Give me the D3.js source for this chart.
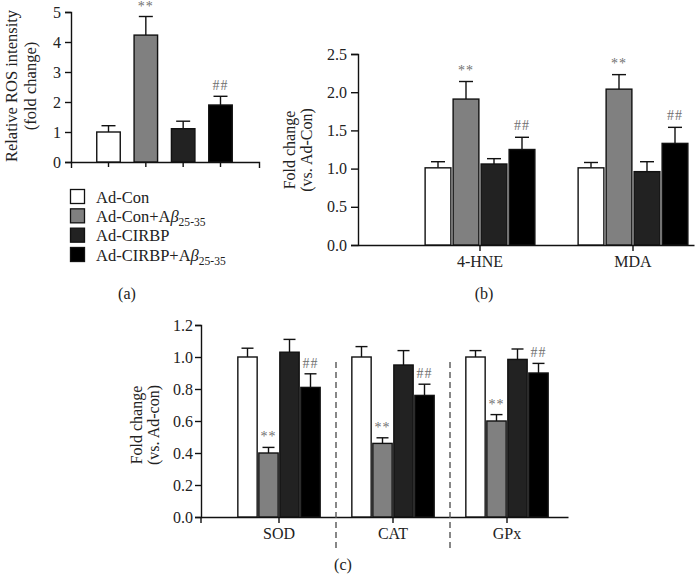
<!DOCTYPE html>
<html><head><meta charset="utf-8">
<script src="https://cdn.jsdelivr.net/npm/d3@7"></script>
<style>
body{margin:0;background:#fff;}
svg{display:block;}
text{font-family:"Liberation Serif","DejaVu Serif",serif;}
</style></head>
<body><svg id="c" width="695" height="576"></svg>
<script>
// ---------- data ----------
const groups = ["Ad-Con","Ad-Con+Aβ25-35","Ad-CIRBP","Ad-CIRBP+Aβ25-35"];
const fills = ["#ffffff","#808080","#222222","#000000"];

// (a) ROS
const rosMean = [1.00, 4.23, 1.11, 1.90];
const rosErr  = [0.21, 0.62, 0.25, 0.29];
const rosSig  = ["", "**", "", "##"];
const rosTicks = [0,1,2,3,4,5];

// (b) 4-HNE / MDA
const bCats = ["4-HNE","MDA"];
const bMean = [[1.01,1.01],[1.91,2.04],[1.06,0.96],[1.25,1.33]];   // per group, per category
const bErr  = [[0.08,0.07],[0.23,0.19],[0.07,0.13],[0.16,0.21]];
const bSig  = [["",""],["**","**"],["",""],["##","##"]];
const bTicks = [0,0.5,1.0,1.5,2.0,2.5];

// (c) SOD / CAT / GPx
const cCats = ["SOD","CAT","GPx"];
const cMean = [[1.00,1.00,1.00],[0.40,0.46,0.60],[1.03,0.95,0.985],[0.81,0.76,0.90]];
const cErr  = [[0.055,0.065,0.04],[0.035,0.035,0.04],[0.08,0.09,0.065],[0.085,0.07,0.06]];
const cSig  = [["","",""],["**","**","**"],["","",""],["##","##","##"]];
const cTicks = [0,0.2,0.4,0.6,0.8,1.0,1.2];

const svg = d3.select("#c");
const FS = 16;
const TXT = "#222";

function styleAxis(g){
  g.selectAll("path,line").attr("stroke","#111").attr("stroke-width",1.4);
  g.selectAll("text").attr("font-size",FS).style("fill",TXT)
   .attr("font-family",'"Liberation Serif",serif');
}

function txt(){ return svg.append("text").style("fill",TXT); }

function groupLabel(sel, name){
  const m = name.match(/^(.*)Aβ25-35$/);
  if(!m){ sel.text(name); return; }
  sel.append("tspan").text(m[1]+"A");
  sel.append("tspan").attr("font-style","italic").text("β");
  sel.append("tspan").attr("font-size",FS*0.72).attr("dy",4).text("25-35");
}

function errBar(g, cx, yTop, yErr, cap){
  g.append("line").attr("x1",cx).attr("x2",cx).attr("y1",yTop).attr("y2",yErr)
    .attr("stroke","#111").attr("stroke-width",1.4);
  g.append("line").attr("x1",cx-cap/2).attr("x2",cx+cap/2).attr("y1",yErr).attr("y2",yErr)
    .attr("stroke","#111").attr("stroke-width",1.4);
}

function sig(g, cx, y, s){
  if(!s) return;
  g.append("text").attr("x",cx).attr("y",y).attr("text-anchor","middle")
   .attr("font-size",14).style("fill","#707070").attr("letter-spacing",1).text(s);
}

// ---------- panel (a) ----------
{
  const y = d3.scaleLinear().domain([0,5]).range([162,12]);
  const x = d3.scalePoint().domain(groups).range([108.5,220.5]);
  const bw = 23.5;
  const g = svg.append("g");
  const ax = g.append("g").attr("transform","translate(71,0)")
    .call(d3.axisLeft(y).tickValues(rosTicks).tickFormat(d3.format("d")).tickSize(6).tickPadding(4));
  styleAxis(ax);
  const xs = d3.scaleLinear().domain([0,1]).range([71,259]);
  const axb = g.append("g").attr("transform","translate(0,162)")
    .call(d3.axisBottom(xs).tickValues([]).tickSizeOuter(6));
  styleAxis(axb);
  groups.forEach((gr,i)=>{
    const cx = x(gr);
    g.append("line").attr("x1",cx).attr("x2",cx).attr("y1",162).attr("y2",167)
     .attr("stroke","#111").attr("stroke-width",1.4);
    errBar(g, cx, y(rosMean[i]), y(rosMean[i]+rosErr[i]), 14);
    g.append("rect").attr("x",cx-bw/2).attr("y",y(rosMean[i])).attr("width",bw)
     .attr("height",y(0)-y(rosMean[i])).attr("fill",fills[i]).attr("stroke","#111").attr("stroke-width",1.4);
    sig(g, cx, y(rosMean[i]+rosErr[i])-6, rosSig[i]);
  });
  txt().attr("font-size",16.5).attr("text-anchor","middle")
    .attr("transform","translate(17,86) rotate(-90)").text("Relative ROS intensity");
  txt().attr("font-size",16.5).attr("text-anchor","middle")
    .attr("transform","translate(36,86) rotate(-90)").text("(fold change)");
  // legend
  const ly = d3.scalePoint().domain(groups).range([197,255]);
  groups.forEach((gr,i)=>{
    svg.append("rect").attr("x",70.5).attr("y",ly(gr)-7.5).attr("width",14).attr("height",14)
      .attr("fill",fills[i]).attr("stroke","#111").attr("stroke-width",1.3);
    const t = txt().attr("x",96).attr("y",ly(gr)+5.5).attr("font-size",16.5);
    groupLabel(t, gr);
  });
  txt().attr("x",127).attr("y",299).attr("text-anchor","middle").attr("font-size",FS).text("(a)");
}

// ---------- panel (b) ----------
{
  const y = d3.scaleLinear().domain([0,2.5]).range([245,54]);
  const x0 = d3.scalePoint().domain(bCats).range([480,633]);
  const x1 = d3.scaleBand().domain(groups).range([-56,56]).paddingInner(0.08).paddingOuter(0.04);
  const g = svg.append("g");
  const ax = g.append("g").attr("transform","translate(358,0)")
    .call(d3.axisLeft(y).tickValues(bTicks).tickFormat(d3.format(".1f")).tickSize(7).tickPadding(4));
  styleAxis(ax);
  const axb = g.append("g").attr("transform","translate(0,245)")
    .call(d3.axisBottom(d3.scaleLinear().domain([0,1]).range([358,694])).tickValues([]).tickSizeOuter(0));
  styleAxis(axb);
  bCats.forEach((c,j)=>{
    const cx0 = x0(c);
    g.append("line").attr("x1",cx0).attr("x2",cx0).attr("y1",245).attr("y2",251)
     .attr("stroke","#111").attr("stroke-width",1.4);
    g.append("text").style("fill",TXT).attr("x",cx0).attr("y",267).attr("text-anchor","middle").attr("font-size",FS).text(c);
    groups.forEach((gr,i)=>{
      const bx = cx0 + x1(gr), bw = x1.bandwidth(), cx = bx + bw/2;
      const v = bMean[i][j], e = bErr[i][j];
      errBar(g, cx, y(v), y(v+e), 14);
      g.append("rect").attr("x",bx).attr("y",y(v)).attr("width",bw).attr("height",y(0)-y(v))
       .attr("fill",fills[i]).attr("stroke","#111").attr("stroke-width",1.4);
      sig(g, cx, y(v+e)-7, bSig[i][j]);
    });
  });
  txt().attr("font-size",FS).attr("text-anchor","middle")
    .attr("transform","translate(295,150) rotate(-90)").text("Fold change");
  txt().attr("font-size",FS).attr("text-anchor","middle")
    .attr("transform","translate(312,150) rotate(-90)").text("(vs. Ad-Con)");
  txt().attr("x",484).attr("y",299).attr("text-anchor","middle").attr("font-size",FS).text("(b)");
}

// ---------- panel (c) ----------
{
  const y = d3.scaleLinear().domain([0,1.2]).range([517,325]);
  const x0 = d3.scalePoint().domain(cCats).range([279,507]);
  const x1 = d3.scaleBand().domain(groups).range([-42,42]).paddingInner(0.08).paddingOuter(0.04);
  const g = svg.append("g");
  const ax = g.append("g").attr("transform","translate(201,0)")
    .call(d3.axisLeft(y).tickValues(cTicks).tickFormat(d3.format(".1f")).tickSize(6).tickPadding(2));
  styleAxis(ax);
  const axb = g.append("g").attr("transform","translate(0,517)")
    .call(d3.axisBottom(d3.scaleLinear().domain([0,1]).range([201,568])).tickValues([]).tickSizeOuter(0));
  styleAxis(axb);
  g.append("line").attr("x1",201).attr("x2",201).attr("y1",517).attr("y2",523).attr("stroke","#111").attr("stroke-width",1.4);
  const step = x0.step();
  cCats.forEach((c,j)=>{
    const cx0 = x0(c);
    g.append("line").attr("x1",cx0).attr("x2",cx0).attr("y1",517).attr("y2",523)
     .attr("stroke","#111").attr("stroke-width",1.4);
    g.append("text").style("fill",TXT).attr("x",cx0).attr("y",539).attr("text-anchor","middle").attr("font-size",FS).text(c);
    if(j>0){
      const dx = cx0 - step/2;
      g.append("line").attr("x1",dx).attr("x2",dx).attr("y1",362).attr("y2",548)
       .attr("stroke","#555").attr("stroke-width",1.4).attr("stroke-dasharray","6,4");
    }
    groups.forEach((gr,i)=>{
      const bx = cx0 + x1(gr), bw = x1.bandwidth(), cx = bx + bw/2;
      const v = cMean[i][j], e = cErr[i][j];
      errBar(g, cx, y(v), y(v+e), 12);
      g.append("rect").attr("x",bx).attr("y",y(v)).attr("width",bw).attr("height",y(0)-y(v))
       .attr("fill",fills[i]).attr("stroke","#111").attr("stroke-width",1.4);
      sig(g, cx, y(v+e)-6, cSig[i][j]);
    });
  });
  txt().attr("font-size",FS).attr("text-anchor","middle")
    .attr("transform","translate(142,425) rotate(-90)").text("Fold change");
  txt().attr("font-size",FS).attr("text-anchor","middle")
    .attr("transform","translate(159,425) rotate(-90)").text("(vs. Ad-con)");
  txt().attr("x",343).attr("y",570).attr("text-anchor","middle").attr("font-size",FS).text("(c)");
}
</script></body></html>
